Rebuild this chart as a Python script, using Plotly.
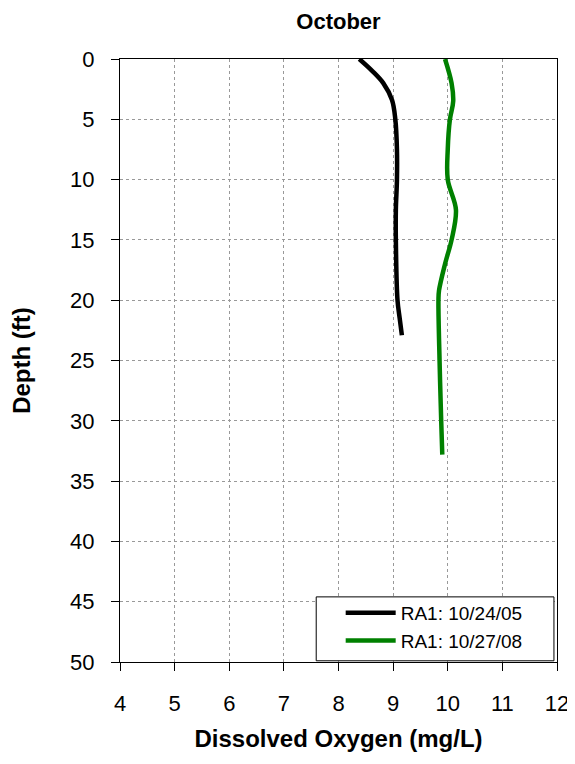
import plotly.graph_objects as go

# Series 1: RA1 10/24/05
do_2005 = [8.38, 8.62, 8.82, 8.98, 9.04, 9.07, 9.07, 9.05, 9.05, 9.08, 9.12, 9.16]
depth_2005 = [0, 1, 2, 3.4, 5, 7.5, 10, 12.5, 15, 20, 21.5, 22.9]

# Series 2: RA1 10/27/08
do_2008 = [9.95, 10.07, 10.1, 10.04, 10.0, 10.0, 10.15, 10.07, 9.95, 9.84, 9.83, 9.85, 9.88, 9.9]
depth_2008 = [0, 2, 3.5, 5, 7.5, 10, 12.5, 15, 17, 19.2, 20, 25, 30, 32.8]

names = ["RA1: 10/24/05", "RA1: 10/27/08"]
colors = ["#000000", "#008000"]

x_ticks = [4, 5, 6, 7, 8, 9, 10, 11, 12]
y_ticks = [0, 5, 10, 15, 20, 25, 30, 35, 40, 45, 50]

FONT = "Arial, Liberation Sans, sans-serif"

fig = go.Figure()
for xs, ys, nm, c in [(do_2005, depth_2005, names[0], colors[0]),
                      (do_2008, depth_2008, names[1], colors[1])]:
    fig.add_trace(go.Scatter(x=xs, y=ys, mode="lines", name=nm,
                             line=dict(color=c, width=4.5, shape="spline", smoothing=1.0)))

axis_common = dict(showgrid=True, gridcolor="#999999", griddash="dot", gridwidth=1,
                   showline=True, linecolor="black", linewidth=1, mirror=True,
                   ticks="outside", ticklen=8, tickcolor="black",
                   tickfont=dict(family=FONT, size=22, color="black"),
                   zeroline=False)

# legend frame (drawn as a paper-referenced rectangle behind the legend entries)
fig.add_shape(type="rect", xref="paper", yref="paper",
              x0=0.449, x1=0.993, y0=0.002, y1=0.108,
              line=dict(color="black", width=1), fillcolor="white", layer="above")

# page body has an 8px margin; margins compensate for that offset
fig.update_layout(
    width=575, height=764,
    margin=dict(l=112, r=26, t=51, b=110),
    paper_bgcolor="white", plot_bgcolor="white",
    title=dict(text="<b>October</b>", x=0.5, xanchor="center", y=0.993, yanchor="top",
               font=dict(family=FONT, size=22, color="black"),
               xref="paper"),
    xaxis=dict(range=[4, 12], tickvals=x_ticks, ticklabelstandoff=14, **axis_common,
               title=dict(text="<b>Dissolved Oxygen (mg/L)</b>", standoff=14,
                          font=dict(family=FONT, size=24, color="black"))),
    yaxis=dict(range=[50, 0], tickvals=y_ticks, ticklabelstandoff=12, **axis_common,
               title=dict(text="<b>Depth (ft)</b>", standoff=34,
                          font=dict(family=FONT, size=24, color="black"))),
    legend=dict(x=0.505, y=0.1128, xanchor="left", yanchor="top",
                bgcolor="rgba(0,0,0,0)", borderwidth=0,
                font=dict(family=FONT, size=19, color="black"),
                itemwidth=50),
    showlegend=True,
)

fig.write_html("out.html")
